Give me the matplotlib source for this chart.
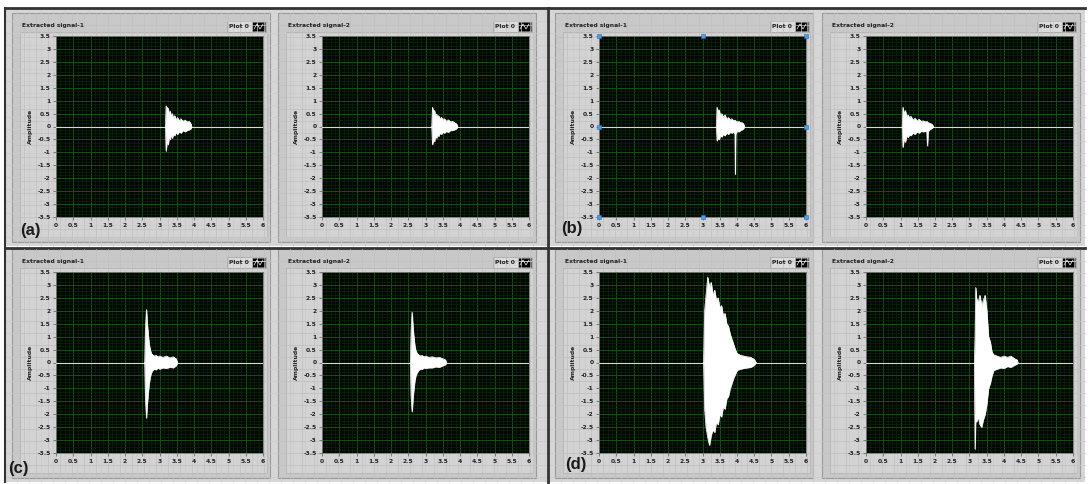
import matplotlib
matplotlib.use("Agg")
import matplotlib.pyplot as plt
from matplotlib.patches import Rectangle

W, H = 1088, 484

x_ticks = [0, 0.5, 1, 1.5, 2, 2.5, 3, 3.5, 4, 4.5, 5, 5.5, 6]
x_labels = ["0", "0.5", "1", "1.5", "2", "2.5", "3", "3.5", "4", "4.5", "5", "5.5", "6"]
y_ticks = [3.5, 3, 2.5, 2, 1.5, 1, 0.5, 0, -0.5, -1, -1.5, -2, -2.5, -3, -3.5]
y_labels = ["3.5", "3", "2.5", "2", "1.5", "1", "0.5", "0", "-0.5", "-1", "-1.5", "-2", "-2.5", "-3", "-3.5"]
titles = ["Extracted signal-1", "Extracted signal-2"]
panel_tags = ["(a)", "(b)", "(c)", "(d)"]

# burst envelopes (time, upper, lower)
a1_x = [3.17, 3.19, 3.22, 3.25, 3.28, 3.31, 3.34, 3.37, 3.40, 3.44, 3.48, 3.52, 3.57, 3.62, 3.68, 3.74, 3.80, 3.86, 3.91, 3.93]
a1_hi = [0, 0.80, 0.72, 0.70, 0.45, 0.60, 0.35, 0.50, 0.30, 0.42, 0.25, 0.35, 0.22, 0.30, 0.20, 0.25, 0.18, 0.20, 0.10, 0]
a1_lo = [0, -0.95, -0.55, -0.70, -0.40, -0.50, -0.30, -0.45, -0.30, -0.35, -0.22, -0.30, -0.20, -0.25, -0.15, -0.20, -0.15, -0.12, -0.08, 0]

a2_x = [3.18, 3.20, 3.23, 3.26, 3.29, 3.32, 3.35, 3.38, 3.42, 3.46, 3.50, 3.55, 3.60, 3.66, 3.72, 3.78, 3.84, 3.90, 3.93]
a2_hi = [0, 0.75, 0.55, 0.62, 0.40, 0.48, 0.35, 0.42, 0.28, 0.36, 0.25, 0.30, 0.20, 0.26, 0.18, 0.20, 0.15, 0.10, 0]
a2_lo = [0, -0.70, -0.50, -0.58, -0.35, -0.45, -0.30, -0.38, -0.25, -0.30, -0.22, -0.25, -0.18, -0.22, -0.15, -0.15, -0.12, -0.08, 0]

b1_x = [3.40, 3.42, 3.45, 3.48, 3.52, 3.56, 3.60, 3.65, 3.70, 3.75, 3.80, 3.85, 3.90, 3.94, 3.95, 3.96, 4.00, 4.05, 4.10, 4.15, 4.19, 4.21]
b1_hi = [0, 0.75, 0.55, 0.65, 0.40, 0.50, 0.35, 0.45, 0.28, 0.35, 0.25, 0.30, 0.22, 0.25, 0.20, 0.22, 0.18, 0.20, 0.15, 0.15, 0.10, 0]
b1_lo = [0, -0.55, -0.45, -0.50, -0.35, -0.40, -0.30, -0.35, -0.25, -0.30, -0.22, -0.25, -0.20, -0.30, -1.85, -0.30, -0.18, -0.20, -0.15, -0.12, -0.08, 0]

b2_x = [1.05, 1.07, 1.10, 1.14, 1.18, 1.22, 1.26, 1.30, 1.36, 1.42, 1.48, 1.54, 1.60, 1.66, 1.72, 1.76, 1.78, 1.80, 1.86, 1.92, 1.95]
b2_hi = [0, 0.75, 0.50, 0.62, 0.38, 0.45, 0.32, 0.40, 0.25, 0.32, 0.22, 0.28, 0.20, 0.22, 0.18, 0.20, 0.18, 0.15, 0.12, 0.08, 0]
b2_lo = [0, -0.80, -0.50, -0.60, -0.35, -0.42, -0.30, -0.35, -0.25, -0.30, -0.20, -0.25, -0.18, -0.20, -0.18, -0.20, -0.75, -0.18, -0.10, -0.06, 0]

c1_x = [2.57, 2.59, 2.62, 2.64, 2.67, 2.70, 2.73, 2.76, 2.80, 2.85, 2.90, 2.95, 3.00, 3.10, 3.20, 3.30, 3.40, 3.48, 3.52]
c1_hi = [0, 1.30, 2.05, 1.60, 1.10, 0.70, 0.50, 0.35, 0.30, 0.25, 0.28, 0.22, 0.25, 0.20, 0.25, 0.18, 0.22, 0.15, 0]
c1_lo = [0, -1.40, -2.15, -1.70, -1.20, -0.80, -0.55, -0.40, -0.30, -0.25, -0.28, -0.20, -0.25, -0.20, -0.22, -0.18, -0.20, -0.12, 0]

c2_x = [2.56, 2.58, 2.61, 2.63, 2.66, 2.69, 2.72, 2.76, 2.80, 2.85, 2.90, 2.95, 3.00, 3.10, 3.20, 3.30, 3.40, 3.50, 3.58, 3.60]
c2_hi = [0, 1.20, 1.95, 1.50, 1.00, 0.65, 0.45, 0.35, 0.30, 0.25, 0.28, 0.22, 0.25, 0.20, 0.22, 0.18, 0.20, 0.15, 0.10, 0]
c2_lo = [0, -1.30, -1.90, -1.50, -1.05, -0.70, -0.50, -0.38, -0.30, -0.25, -0.26, -0.20, -0.22, -0.20, -0.20, -0.16, -0.18, -0.12, -0.08, 0]

d1_x = [3.03, 3.06, 3.10, 3.15, 3.20, 3.25, 3.30, 3.35, 3.40, 3.45, 3.50, 3.55, 3.60, 3.65, 3.70, 3.75, 3.80, 3.85, 3.90, 3.95, 4.00, 4.10, 4.20, 4.30, 4.40, 4.50, 4.55]
d1_hi = [0, 2.0, 2.6, 3.3, 2.9, 3.1, 2.6, 2.8, 2.4, 2.5, 2.1, 2.2, 1.8, 1.9, 1.5, 1.4, 1.1, 0.9, 0.7, 0.5, 0.35, 0.28, 0.25, 0.22, 0.2, 0.12, 0]
d1_lo = [0, -1.8, -2.5, -2.9, -3.2, -2.8, -2.6, -2.7, -2.3, -2.4, -2.0, -2.1, -1.7, -1.8, -1.4, -1.3, -1.0, -0.8, -0.6, -0.45, -0.3, -0.25, -0.22, -0.2, -0.18, -0.1, 0]

d2_x = [3.14, 3.16, 3.18, 3.20, 3.25, 3.30, 3.35, 3.40, 3.45, 3.50, 3.55, 3.60, 3.65, 3.70, 3.80, 3.90, 4.00, 4.10, 4.20, 4.30, 4.38, 4.40]
d2_hi = [0, 1.0, 2.9, 2.5, 2.3, 2.6, 2.2, 2.4, 2.6, 2.0, 1.0, 0.8, 0.4, 0.3, 0.25, 0.2, 0.25, 0.2, 0.25, 0.15, 0.1, 0]
d2_lo = [0, -3.35, -2.0, -2.3, -2.1, -2.4, -2.5, -2.2, -2.0, -1.6, -1.0, -0.8, -0.5, -0.3, -0.25, -0.2, -0.22, -0.15, -0.18, -0.1, -0.05, 0]

signals = [
    [(a1_x, a1_hi, a1_lo), (a2_x, a2_hi, a2_lo)],
    [(b1_x, b1_hi, b1_lo), (b2_x, b2_hi, b2_lo)],
    [(c1_x, c1_hi, c1_lo), (c2_x, c2_hi, c2_lo)],
    [(d1_x, d1_hi, d1_lo), (d2_x, d2_hi, d2_lo)],
]

# pixel layout of the screenshot
quads = [(5, 9, 547, 246), (549, 9, 1085, 246), (5, 249, 547, 482), (549, 249, 1085, 482)]
plot_left = [[56, 322], [599, 866], [56, 322], [599, 866]]
plot_w = 207
plot_top = [36, 36, 272, 272]
plot_h = 181
tag_pos = [(30, 231), (572, 229), (18, 469), (576, 465)]

fig = plt.figure(figsize=(W / 100, H / 100), dpi=100)
fig.patch.set_facecolor("white")

bg = fig.add_axes([0, 0, 1, 1])
bg.set_xlim(0, W)
bg.set_ylim(H, 0)
bg.axis("off")


def box(x0, y0, x1, y1, **kw):
    bg.add_patch(Rectangle((x0, y0), x1 - x0, y1 - y0, **kw))


def faint_grid(x0, y0, x1, y1, step=12, color="#cacaca"):
    gx = x0 + step
    while gx < x1:
        bg.plot([gx, gx], [y0, y1], color=color, lw=0.5)
        gx += step
    gy = y0 + step
    while gy < y1:
        bg.plot([x0, x1], [gy, gy], color=color, lw=0.5)
        gy += step


for q in quads:
    x0, y0, x1, y1 = q
    box(x0, y0, x1, y1, facecolor="#d6d6d6", edgecolor="none")
    faint_grid(x0, y0, x1, y1)

# frame lines
bg.plot([5, 1085], [8, 8], color="#333333", lw=2)
bg.plot([5, 5], [8, 482], color="#333333", lw=1.5)
bg.plot([548, 548], [8, 484], color="#333333", lw=2)
bg.plot([5, 1085], [247.5, 247.5], color="#333333", lw=2)

for qi in range(4):
    for gi in range(2):
        px0 = plot_left[qi][gi]
        py0 = plot_top[qi]
        px1 = px0 + plot_w
        py1 = py0 + plot_h
        # graph control frame
        box(px0 - 44, py0 - 23, px1 + 7, py1 + 25, facecolor="#c8c8c8", edgecolor="#9a9a9a", lw=0.8)
        faint_grid(px0 - 44, py0 - 23, px1 + 7, py1 + 25, color="#c0c0c0")
        box(px0 - 36, py0 - 4, px1 + 4, py1 + 20, facecolor="#d3d3d3", edgecolor="#b5b5b5", lw=0.6)
        bg.text(px0 - 34, py0 - 10, titles[gi], fontsize=4.3, fontweight="bold", color="#222222",
                ha="left", va="center")
        # legend "Plot 0"
        box(px1 - 36, py0 - 15, px1 + 3, py0 - 4, facecolor="#dcdcdc", edgecolor="#a8a8a8", lw=0.6)
        bg.text(px1 - 24, py0 - 9.5, "Plot 0", fontsize=4.3, fontweight="bold", color="#222222",
                ha="center", va="center")
        box(px1 - 11, py0 - 14, px1 + 2, py0 - 5, facecolor="black", edgecolor="#666666", lw=0.5)
        bg.plot([px1 - 9, px1 - 6, px1 - 3, px1 + 0], [py0 - 7, py0 - 12, py0 - 7, py0 - 12],
                color="white", lw=0.5)

        ax = fig.add_axes([px0 / W, 1 - py1 / H, plot_w / W, plot_h / H])
        ax.set_facecolor("#010801")
        ax.set_xlim(0, 6)
        ax.set_ylim(-3.5, 3.5)
        ax.set_xticks(x_ticks)
        ax.set_xticklabels(x_labels)
        ax.set_yticks(y_ticks)
        ax.set_yticklabels(y_labels)
        ax.set_xticks([t + 0.125 * k for t in x_ticks[:-1] for k in (1, 2, 3)], minor=True)
        ax.set_yticks([t - 0.125 * k for t in y_ticks[:-1] for k in (1, 2, 3)], minor=True)
        ax.grid(True, which="major", color="#185a1b", lw=0.6)
        ax.grid(True, which="minor", color="#0a2a0c", lw=0.4)
        ax.tick_params(which="major", direction="out", length=2, width=0.5, color="#555555",
                       labelsize=4.3, pad=2, labelcolor="#222222")
        ax.tick_params(which="minor", length=0)
        for lab in ax.get_xticklabels() + ax.get_yticklabels():
            lab.set_fontweight("bold")
        for s in ax.spines.values():
            s.set_color("#7a7a7a")
            s.set_linewidth(0.6)
        ax.set_ylabel("Amplitude", fontsize=4.3, fontweight="bold", color="#222222", labelpad=3)

        sx, shi, slo = signals[qi][gi]
        ax.axhline(0, color="#d8d8d8", lw=0.8, zorder=3)
        ax.fill_between(sx, slo, shi, color="white", lw=0.4, zorder=4)
        ax.plot(sx, shi, color="white", lw=0.5, zorder=4)
        ax.plot(sx, slo, color="white", lw=0.5, zorder=4)

        # selection handles on panel (b) left graph
        if qi == 1 and gi == 0:
            hx = [0, 3, 6, 0, 6, 0, 3, 6]
            hy = [3.5, 3.5, 3.5, 0, 0, -3.5, -3.5, -3.5]
            ax.plot(hx, hy, "s", ms=2.5, color="#4f9be8", mec="#2a6fc0", mew=0.4,
                    ls="none", clip_on=False, zorder=6)

for t, (tx, ty) in zip(panel_tags, tag_pos):
    bg.text(tx, ty, t, fontsize=12, fontweight="bold", color="#1a1a1a", ha="center", va="center",
            family="Liberation Sans")

fig.savefig("out.png", dpi=100, facecolor=fig.get_facecolor())
